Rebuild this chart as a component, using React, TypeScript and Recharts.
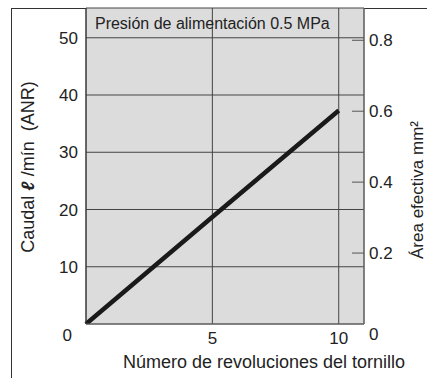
import { ComposedChart, Line, XAxis, YAxis, CartesianGrid, ReferenceArea, Label } from 'recharts';

// turns of the screw
const turns = [0, 5, 10];
// flow rate, l/min (ANR)
const flow = [0, 18.7, 37.3];

const xTicks = [5, 10];
const flowTicks = [0, 10, 20, 30, 40, 50];
const areaTicks = [0, 0.2, 0.4, 0.6, 0.8];

const title = 'Presión de alimentación 0.5 MPa';
const xTitle = 'Número de revoluciones del tornillo';
const rightTitle = 'Área efectiva mm²';

const FONT = '"Liberation Sans", Arial, sans-serif';
const TEXT = '#222';

const data = turns.map((x, i) => ({ x, flow: flow[i] }));

function LeftTick(props: any) {
  const { x, y, payload } = props;
  const zero = payload.value === 0;
  return (
    <text
      x={zero ? x - 6 : x}
      y={zero ? y + 11 : y}
      dy="0.355em"
      textAnchor="end"
      fill={TEXT}
      fontSize={17}
      fontFamily={FONT}
    >
      {payload.value}
    </text>
  );
}

function RightTick(props: any) {
  const { x, y, payload } = props;
  const zero = payload.value === 0;
  const axisX = x - 5;
  return (
    <g>
      {!zero && <line x1={axisX - 12} x2={axisX} y1={y} y2={y} stroke="#555" strokeWidth={1} />}
      <text
        x={x}
        y={zero ? y + 10 : y}
        dy="0.355em"
        textAnchor="start"
        fill={TEXT}
        fontSize={17}
        fontFamily={FONT}
      >
        {payload.value}
      </text>
    </g>
  );
}

function LeftTitle() {
  return (
    <text
      x={28}
      y={167}
      transform="rotate(-90 28 167)"
      textAnchor="middle"
      dy="0.355em"
      fill={TEXT}
      fontSize={18}
      fontFamily={FONT}
      style={{ whiteSpace: 'pre' }}
    >
      Caudal{' '}
      <tspan fontStyle="italic" fontWeight="bold">ℓ</tspan>
      {' /mín  (ANR)'}
    </text>
  );
}

export default function App() {
  return (
    <div style={{ position: 'absolute', left: 0, top: 0, width: 427, height: 378, background: '#fff' }}>
      {/* outer frame */}
      <div style={{ position: 'absolute', left: 11, top: 8, width: 416, height: 370, borderLeft: '1px solid #333', borderTop: '1px solid #333' }} />
      <ComposedChart
        width={427}
        height={378}
        data={data}
        margin={{ top: 8, right: 0, bottom: 0, left: 0 }}
        style={{ position: 'absolute', left: 0, top: 0 }}
      >
        <CartesianGrid yAxisId="left" stroke="#444" fill="#dcdcdd" fillOpacity={1} />
        <XAxis
          dataKey="x"
          type="number"
          domain={[0, 11]}
          ticks={xTicks}
          height={54}
          tickLine={false}
          tickMargin={2}
          axisLine={{ stroke: '#666' }}
          tick={{ fill: TEXT, fontSize: 17, fontFamily: FONT }}
        >
          <Label
            content={() => (
              <text x={264} y={362} dy="0.355em" textAnchor="middle" fill={TEXT} fontSize={18} fontFamily={FONT}>
                {xTitle}
              </text>
            )}
          />
        </XAxis>
        <YAxis
          yAxisId="left"
          type="number"
          domain={[0, 55.2]}
          ticks={flowTicks}
          width={86}
          tickSize={0}
          tickMargin={8}
          axisLine={{ stroke: '#333' }}
          tickLine={false}
          tick={<LeftTick />}
          allowDataOverflow
        >
          <Label content={() => <LeftTitle />} />
        </YAxis>
        <YAxis
          yAxisId="right"
          orientation="right"
          type="number"
          domain={[0, 0.891]}
          ticks={areaTicks}
          width={63}
          tickSize={0}
          tickMargin={5}
          axisLine={{ stroke: '#666' }}
          tickLine={false}
          tick={<RightTick />}
          allowDataOverflow
        >
          <Label
            content={() => (
              <text
                x={417}
                y={190}
                transform="rotate(-90 417 190)"
                textAnchor="middle"
                dy="0.355em"
                fill={TEXT}
                fontSize={17}
                fontFamily={FONT}
              >
                {rightTitle}
              </text>
            )}
          />
        </YAxis>
        <ReferenceArea
          yAxisId="left"
          x1={0}
          x2={10}
          y1={50}
          y2={55.2}
          fill="none"
          stroke="none"
          label={{ value: title, position: 'center', fill: TEXT, fontSize: 16, fontFamily: FONT }}
        />
        <Line
          yAxisId="left"
          type="linear"
          dataKey="flow"
          stroke="#1a1a1a"
          strokeWidth={4.5}
          dot={false}
          activeDot={false}
          isAnimationActive={false}
        />
      </ComposedChart>
    </div>
  );
}
